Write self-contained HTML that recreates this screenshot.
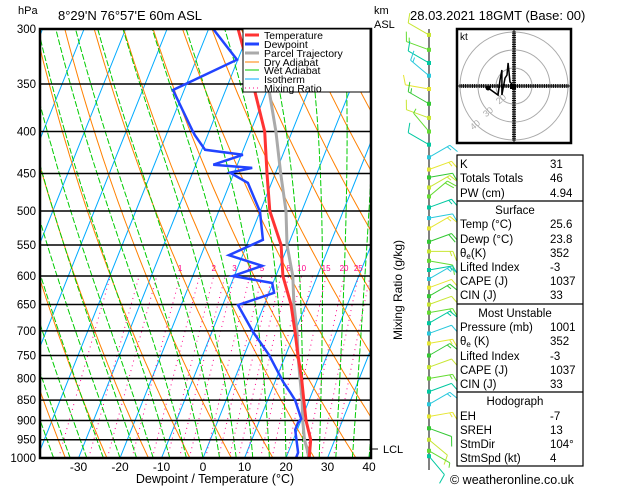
<!DOCTYPE html>
<html><head><meta charset="utf-8">
<style>
html,body{margin:0;padding:0;background:#fff;}
svg{display:block;font-family:"Liberation Sans",sans-serif;}
</style></head>
<body>
<svg id="chart" width="629" height="486" viewBox="0 0 629 486">
  <defs><clipPath id="plotclip"><rect x="40" y="29" width="331" height="429"/></clipPath></defs>
  <text x="18" y="14" font-size="11">hPa</text>
  <text x="58" y="20" font-size="13">8°29'N  76°57'E  60m  ASL</text>
  <text x="374" y="14" font-size="11">km</text>
  <text x="374" y="28" font-size="11">ASL</text>
  <text x="410" y="20" font-size="13">28.03.2021  18GMT  (Base: 00)</text>
  <g id="plot" clip-path="url(#plotclip)"></g>
  <g id="overlay"></g>
  <rect x="40" y="29" width="331" height="429" fill="none" stroke="#000" stroke-width="2.5"/>
  <text x="215" y="483" font-size="12.5" text-anchor="middle">Dewpoint / Temperature (°C)</text>
  <text transform="translate(402,290) rotate(-90)" font-size="12" text-anchor="middle">Mixing Ratio (g/kg)</text>
  <line x1="371" y1="449" x2="378" y2="449" stroke="#000"/>
  <text x="383" y="453" font-size="11">LCL</text>

  <g>
    <rect x="243" y="29" width="127" height="63" fill="#fff" stroke="#000" stroke-width="1"/>
    <line x1="245" y1="35" x2="259" y2="35" stroke="#ff3333" stroke-width="3"/><text x="264" y="39" font-size="10.5">Temperature</text>
    <line x1="245" y1="44" x2="259" y2="44" stroke="#2244ff" stroke-width="3"/><text x="264" y="48" font-size="10.5">Dewpoint</text>
    <line x1="245" y1="53" x2="259" y2="53" stroke="#aaaaaa" stroke-width="3"/><text x="264" y="57" font-size="10.5">Parcel Trajectory</text>
    <line x1="245" y1="62" x2="259" y2="62" stroke="#ff8000" stroke-width="1"/><text x="264" y="66" font-size="10.5">Dry Adiabat</text>
    <line x1="245" y1="70" x2="259" y2="70" stroke="#00cc00" stroke-width="1"/><text x="264" y="74" font-size="10.5">Wet Adiabat</text>
    <line x1="245" y1="79" x2="259" y2="79" stroke="#00aaff" stroke-width="1"/><text x="264" y="83" font-size="10.5">Isotherm</text>
    <line x1="245" y1="88" x2="259" y2="88" stroke="#ff0088" stroke-width="1" stroke-dasharray="1,3"/><text x="264" y="92" font-size="10.5">Mixing Ratio</text>
  </g>

  <g id="hodo">
    <rect x="457" y="29" width="114" height="114" fill="#fff" stroke="#000" stroke-width="2.5"/>
    <text x="460" y="40" font-size="10">kt</text>
  </g>

  <g font-size="11.5">
    <rect x="457" y="155" width="126" height="311" fill="#fff" stroke="#000" stroke-width="1.2"/>
    <line x1="457" y1="201" x2="583" y2="201" stroke="#000" stroke-width="1.2"/>
    <line x1="457" y1="304" x2="583" y2="304" stroke="#000" stroke-width="1.2"/>
    <line x1="457" y1="392" x2="583" y2="392" stroke="#000" stroke-width="1.2"/>
    <text x="460" y="168">K</text><text x="550" y="168">31</text>
    <text x="460" y="182">Totals Totals</text><text x="550" y="182">46</text>
    <text x="460" y="197">PW (cm)</text><text x="550" y="197">4.94</text>
    <text x="515" y="214" text-anchor="middle">Surface</text>
    <text x="460" y="228">Temp (°C)</text><text x="550" y="228">25.6</text>
    <text x="460" y="243">Dewp (°C)</text><text x="550" y="243">23.8</text>
    <text x="460" y="257">θ<tspan font-size="8" dy="2">e</tspan><tspan dy="-2">(K)</tspan></text><text x="550" y="257">352</text>
    <text x="460" y="271">Lifted Index</text><text x="550" y="271">-3</text>
    <text x="460" y="285">CAPE (J)</text><text x="550" y="285">1037</text>
    <text x="460" y="299">CIN (J)</text><text x="550" y="299">33</text>
    <text x="515" y="317" text-anchor="middle">Most Unstable</text>
    <text x="460" y="331">Pressure (mb)</text><text x="550" y="331">1001</text>
    <text x="460" y="345">θ<tspan font-size="8" dy="2">e</tspan><tspan dy="-2"> (K)</tspan></text><text x="550" y="345">352</text>
    <text x="460" y="360">Lifted Index</text><text x="550" y="360">-3</text>
    <text x="460" y="374">CAPE (J)</text><text x="550" y="374">1037</text>
    <text x="460" y="388">CIN (J)</text><text x="550" y="388">33</text>
    <text x="515" y="405" text-anchor="middle">Hodograph</text>
    <text x="460" y="420">EH</text><text x="550" y="420">-7</text>
    <text x="460" y="434">SREH</text><text x="550" y="434">13</text>
    <text x="460" y="448">StmDir</text><text x="550" y="448">104°</text>
    <text x="460" y="462">StmSpd (kt)</text><text x="550" y="462">4</text>
  </g>
  <text x="450" y="484" font-size="12.5">© weatheronline.co.uk</text>
</svg>
<script>
// ---- data ----
const tempP = [1000,950,900,850,800,750,700,650,600,550,500,450,400,350,300];
const tempT = [25.6,24.2,21.2,18.7,16.1,13.0,9.9,6.4,1.7,-1.7,-7.7,-12.0,-16.6,-24.0,-32.9];
const dewP = [1000,985,924,906,896,879,850,831,808,774,749,702,651,629,612,600,583,566,542,501,462,449,443,439,427,421,404,398,356,327,300];
const dewT = [22.4,22.4,19.5,19.5,19.9,18.7,16.6,14.6,12.0,8.6,6.0,-0.1,-6.3,1.2,-0.2,-10.3,-4.3,-13.3,-6.6,-10.0,-15.7,-21.0,-16.1,-25.8,-19.6,-29.2,-33.1,-34.3,-42.7,-30.2,-38.9];
const parcelP = [1000,975,950,900,850,800,750,700,650,600,550,500,450,400,350,300];
const parcelT = [25.5,24.2,22.7,20.4,18.3,15.7,13.0,10.4,7.1,4.1,-0.3,-3.8,-8.7,-13.9,-20.4,-28.0];
const isobars = [300,350,400,450,500,550,600,650,700,750,800,850,900,950,1000];
const xTicks = [-30,-20,-10,0,10,20,30,40];
const mixRatios = [1,2,3,4,5,8,10,15,20,25];
const mixRatiosExtra = [0.2,0.4,0.6,1.5,2.5,6,7,12,30];
const windP = [305,318,330,342,355,370,385,400,415,430,445,455,468,480,495,510,525,545,560,575,590,605,620,635,650,665,685,705,725,750,775,800,830,860,890,920,950,980,995];
const windDir = [300,290,300,310,280,300,290,320,300,60,70,80,60,50,70,80,60,70,90,100,80,60,70,60,70,80,60,70,80,60,70,80,70,60,80,110,130,120,140];
const windSpd = [10,15,10,15,10,15,10,5,10,15,15,10,15,20,15,10,15,20,15,10,15,15,10,15,10,15,15,10,15,15,10,15,10,15,15,10,10,5,10];
const hodoU = [-14.4,-8.9,-7.8,-6.7,-6.7,-5.0,-3.9,-3.3,-2.2,-0.6,0];
const hodoV = [-1.1,-5.0,3.3,8.9,-5.0,4.4,6.1,12.8,2.2,0.6,-0.6];
const hodoRings = [10,20,30];
const hodoRingLabels = ["20","30","40"];

// ---- axes ----
const NS='http://www.w3.org/2000/svg';
function yOf(p){return 458-356.3*Math.log(1000/p);}
function xOf(T,p){return 203+4.15*T+0.4*(458-yOf(p));}
const plot=document.getElementById('plot');
const overlay=document.getElementById('overlay');
function mk(tag,attrs,parent){const e=document.createElementNS(NS,tag);for(const k in attrs)e.setAttribute(k,attrs[k]);(parent||plot).appendChild(e);return e;}
function poly(pts,stroke,w,dash,parent){const e=mk('polyline',{points:pts.map(q=>q[0].toFixed(1)+','+q[1].toFixed(1)).join(' '),fill:'none',stroke:stroke,'stroke-width':w},parent);if(dash)e.setAttribute('stroke-dasharray',dash);return e;}

// isotherms
for(let T=-130;T<=50;T+=10){
  const e=poly([[xOf(T,1000),yOf(1000)],[xOf(T,300),yOf(300)]],'#00aaff',1);
  
  
}
// dry adiabats
for(let th=240;th<=480;th+=10){
  const pts=[];
  for(let p=1000;p>=300;p-=10){const T=th*Math.pow(p/1000,0.2857)-273.15;pts.push([xOf(T,p),yOf(p)]);}
  const e=poly(pts,'#ff8000',1);
  
  
}
// wet adiabats
function es(T){return 6.112*Math.exp(17.67*T/(T+243.5));}
for(let T0=-40;T0<=40;T0+=4){
  let T=T0+273.15;const pts=[[xOf(T0,1000),yOf(1000)]];
  for(let p=1000;p>300;p-=5){
    const rs=0.622*es(T-273.15)/(p-es(T-273.15));
    const dTdp=(287*T+2.5e6*rs)/(1004+2.5e6*2.5e6*rs*0.622/(287*T*T))/p;
    T-=dTdp*5;pts.push([xOf(T-273.15,p-5),yOf(p-5)]);
  }
  const e=poly(pts,'#00cc00',1,'6,2');
  
  
}
// mixing ratio
function mixLine(w){
  const pts=[];
  for(let p=1000;p>=600;p-=10){const e=w*p/(622+w);const l=Math.log(e/6.112);const Td=243.5*l/(17.67-l);pts.push([xOf(Td,p),yOf(p)]);}
  const e=poly(pts,'#ff0088',1,'1,4');
  
  
}
mixRatiosExtra.forEach(mixLine);
mixRatios.forEach(w=>{
  mixLine(w);
  const ee=600*w/(622+w),l=Math.log(ee/6.112),Td=243.5*l/(17.67-l);
  const t=mk('text',{x:xOf(Td,600),y:yOf(600)-5,'font-size':8,fill:'#ff0088','text-anchor':'middle'});
  t.textContent=w;
  
  
});
// isobars
isobars.forEach(p=>{
  const l=mk('line',{x1:40,x2:371,y1:yOf(p),y2:yOf(p),stroke:'#000','stroke-width':1.5});
  
  
  const t=mk('text',{x:36,y:yOf(p)+4,'font-size':11.5,'text-anchor':'end'},overlay);
  t.textContent=p;
  
  
});
xTicks.forEach(T=>{
  const t=mk('text',{x:xOf(T,1000),y:471,'font-size':12,'text-anchor':'middle'},overlay);
  t.textContent=T;
  
  
});
// profiles
const par=poly(parcelP.map((p,i)=>[xOf(parcelT[i],p),yOf(p)]),'#aaaaaa',3);


const dew=poly(dewP.map((p,i)=>[xOf(dewT[i],p),yOf(p)]),'#2244ff',2.5);


const tmp=poly(tempP.map((p,i)=>[xOf(tempT[i],p),yOf(p)]),'#ff3333',3);



// wind barbs
const wg=mk('g',{},overlay);


mk('line',{x1:429,x2:429,y1:29,y2:470,stroke:'#000','stroke-width':1},wg);
const cols=['#c8e632','#64dc32','#00c8a0','#28c8dc','#e6e632','#32c832'];
windP.forEach((p,i)=>{
  const y=yOf(p),a=windDir[i]*Math.PI/180,L=24;
  const c=cols[i%cols.length];
  const ex=429+L*Math.sin(a),ey=y-L*Math.cos(a);
  const g=mk('g',{stroke:c,'stroke-width':1,fill:'none'},wg);
  
  
  mk('line',{x1:429,y1:y,x2:ex,y2:ey},g);
  let n=Math.round(windSpd[i]/5),pos=0;
  while(n>0){
    const len=n>=2?10:5;
    const bx=ex-pos*Math.sin(a)*3,by=ey+pos*Math.cos(a)*3;
    const pa=a+Math.PI/2.6;
    mk('line',{x1:bx,y1:by,x2:bx+len*Math.sin(pa),y2:by-len*Math.cos(pa)},g);
    n-=2;pos++;
  }
  mk('rect',{x:427,y:y-2,width:4,height:4,fill:c,stroke:'none'},g);
});

// hodograph
const hodo=document.getElementById('hodo');
const hcx=514,hcy=86,hs=1.8;
hodoRings.forEach((r,i)=>{
  const c=mk('circle',{cx:hcx,cy:hcy,r:r*hs,fill:'none',stroke:'#aaaaaa','stroke-width':1},hodo);
  
  
  const t=mk('text',{x:hcx-r*hs*0.72,y:hcy+r*hs*0.72+3,'font-size':9,fill:'#aaaaaa','text-anchor':'middle',transform:`rotate(-40 ${hcx-r*hs*0.72} ${hcy+r*hs*0.72})`},hodo);
  t.textContent=hodoRingLabels[i];
  
  
});
mk('line',{x1:458,x2:570,y1:hcy,y2:hcy,stroke:'#000','stroke-width':1},hodo);
mk('line',{x1:hcx,x2:hcx,y1:30,y2:142,stroke:'#000','stroke-width':1},hodo);
for(let k=-30;k<=30;k++){if(k===0)continue;const d=k*3.6/2;
  mk('line',{x1:hcx+d,x2:hcx+d,y1:hcy-2,y2:hcy+2,stroke:'#000'},hodo);
  mk('line',{y1:hcy+d,y2:hcy+d,x1:hcx-2,x2:hcx+2,stroke:'#000'},hodo);}
const hl=poly(hodoU.map((u,i)=>[hcx+u*hs,hcy-hodoV[i]*hs]),'#000',1.5,null,hodo);


mk('circle',{cx:hcx+hodoU[0]*hs,cy:hcy-hodoV[0]*hs,r:2.5,fill:'#000'},hodo);
mk('rect',{x:hcx-4,y:hcy-2,width:6,height:5,fill:'#000'},hodo);
</script>
</body></html>
